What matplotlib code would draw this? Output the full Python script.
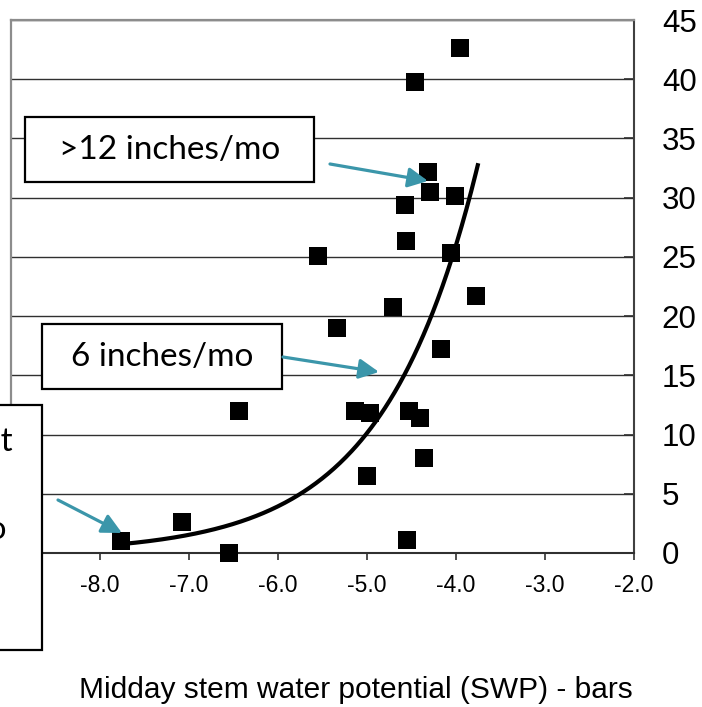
import matplotlib
matplotlib.use('Agg')
import matplotlib.pyplot as plt
import numpy as np
from matplotlib.patches import Rectangle, FancyArrowPatch

# ---- data ----
swp = [-3.95, -4.46, -4.31, -4.29, -4.01, -4.57, -4.56, -4.06, -5.55, -3.77,
       -4.71, -5.34, -4.17, -6.44, -5.13, -4.97, -4.53, -4.40, -4.36, -5.00,
       -7.08, -7.76, -6.55, -4.55]
growth = [42.6, 39.8, 32.2, 30.5, 30.1, 29.4, 26.3, 25.3, 25.1, 21.7,
          20.8, 19.0, 17.2, 12.0, 12.0, 11.8, 12.0, 11.4, 8.0, 6.5,
          2.6, 1.0, 0.0, 1.1]

# exponential trendline y = a * exp(b * x)
trend_a = 1130.0
trend_b = 0.943
trend_range = (-7.76, -3.75)

x_ticks = [-8, -7, -6, -5, -4, -3, -2]
x_tick_labels = ['-8.0', '-7.0', '-6.0', '-5.0', '-4.0', '-3.0', '-2.0']
y_ticks = [0, 5, 10, 15, 20, 25, 30, 35, 40, 45]

x_label = 'Midday stem water potential (SWP) - bars'
box_texts = ['>12 inches/mo', '6 inches/mo']
cut_box_lines = ['at', '2 inches/mo']

# ---- figure ----
W, H = 702, 707
fig = plt.figure(figsize=(W / 100, H / 100), dpi=100)
fig.patch.set_facecolor('white')


def fp(x, y):
    return (x / W, 1 - y / H)


ax = fig.add_axes([11 / W, 1 - 553 / H, 623 / W, 533 / H])
ax.set_xlim(-9, -2)
ax.set_ylim(0, 45)

ax.yaxis.tick_right()
ax.set_yticks(y_ticks)
ax.set_yticklabels([str(v) for v in y_ticks], fontsize=22.5, family='Liberation Sans')
ax.set_xticks(x_ticks)
ax.set_xticklabels(x_tick_labels, fontsize=16.5, family='Liberation Sans')
ax.tick_params(axis='y', direction='in', length=7, width=1.2, pad=20, colors='#303030',
               labelcolor='black')
ax.tick_params(axis='x', direction='out', length=5, width=1.2, pad=10, colors='#303030',
               labelcolor='black')
ax.yaxis.grid(True, color='#303030', lw=1.0)
ax.set_axisbelow(True)

ax.spines['top'].set_color('#8c8c8c')
ax.spines['left'].set_color('#8c8c8c')
ax.spines['top'].set_linewidth(1.6)
ax.spines['left'].set_linewidth(1.6)
ax.spines['right'].set_color('#404040')
ax.spines['right'].set_linewidth(1.5)
ax.spines['bottom'].set_color('#303030')
ax.spines['bottom'].set_linewidth(1.5)

ax.scatter(swp, growth, marker='s', s=150, color='black', zorder=4, clip_on=False,
           linewidths=0)

xs = np.linspace(trend_range[0], trend_range[1], 300)
ax.plot(xs, trend_a * np.exp(trend_b * xs), color='black', lw=3, zorder=5,
        solid_capstyle='butt')

fig.text(356 / W, 1 - 690 / H, x_label, ha='center', va='center', fontsize=21.5,
         family='Liberation Sans')

teal = '#3b96aa'
box_font = 'Lato'

# boxes
def add_box(x0, y0, x1, y1):
    r = Rectangle(fp(x0, y1), (x1 - x0) / W, (y1 - y0) / H, transform=fig.transFigure,
                  facecolor='white', edgecolor='black', lw=1.6, zorder=10)
    fig.add_artist(r)

add_box(25, 117, 314, 182)
fig.text(*fp(170, 150), box_texts[0], ha='center', va='center', fontsize=24,
         family=box_font, zorder=11)
add_box(42, 324, 282, 389)
fig.text(*fp(162, 357), box_texts[1], ha='center', va='center', fontsize=24,
         family=box_font, zorder=11)
add_box(-5, 405, 42, 650)
fig.text(*fp(13, 442), cut_box_lines[0], ha='right', va='center', fontsize=24,
         family=box_font, zorder=11)
fig.text(*fp(6, 530), cut_box_lines[1], ha='right', va='center', fontsize=24,
         family=box_font, zorder=11)

# arrows
def add_arrow(p0, p1):
    a = FancyArrowPatch(fp(*p0), fp(*p1), transform=fig.transFigure,
                        arrowstyle='-|>,head_length=1.2,head_width=0.6',
                        mutation_scale=10, lw=2.3, color=teal, zorder=12,
                        shrinkA=0, shrinkB=0)
    fig.add_artist(a)

add_arrow((330, 164), (428, 181))
add_arrow((283, 357), (379, 372))
add_arrow((58, 500), (122, 533))

fig.savefig('out.png', dpi=100)
